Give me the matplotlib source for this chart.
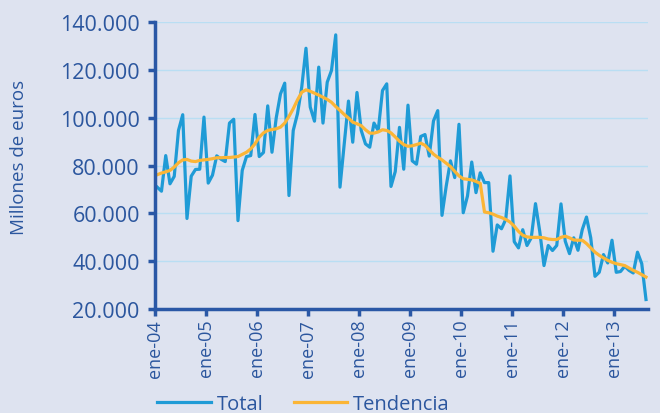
import matplotlib.pyplot as plt
import numpy as np

# monthly data, ene-04 .. ago-13 (millones de euros)
total = [71000, 69300, 84200, 72400, 75500, 94700, 101300, 57900, 75600, 78400, 78500, 100300,
         72700, 76000, 84100, 82700, 81700, 97800, 99400, 57000, 78000, 83800, 84200, 101400,
         83800, 85500, 105000, 85600, 100000, 110000, 114500, 67500, 94700, 101700, 112800, 129100,
         104500, 98600, 121200, 97800, 114900, 119800, 134700, 71000, 89100, 107000, 89800, 110600,
         94700, 89100, 87700, 97800, 94700, 111400, 114200, 71300, 77500, 96000, 78500, 105300,
         82000, 80600, 92200, 93000, 84000, 98700, 103000, 59200, 71500, 82000, 75000, 97300,
         60300, 67300, 81500, 68700, 77000, 72900, 72900, 44200, 55200, 53600, 57500, 75700,
         48200, 45600, 53200, 46600, 49800, 64100, 52500, 38200, 46600, 44500, 46600, 64000,
         48400, 43200, 49800, 44600, 53200, 58500, 49800, 33700, 35400, 42800, 39300, 48800,
         35400, 35700, 37900, 36200, 35100, 43800, 39000, 24000]

tendencia = [76200, 76900, 77400, 78000, 79400, 81200, 82400, 82600, 81900, 81700, 82200, 82400,
             82600, 82900, 83300, 83300, 83400, 83400, 83600, 83800, 84700, 85600, 87000, 89100,
             91900, 93700, 94700, 95100, 95400, 96100, 97800, 100600, 103800, 107500, 110700, 111700,
             111100, 110300, 109500, 108600, 107700, 106500, 104700, 103100, 101400, 99900, 98200, 97500,
             96700, 95000, 93600, 93600, 94100, 95000, 94700, 93700, 92000, 90200, 88800, 88100,
             88300, 88800, 89400, 88500, 86600, 84800, 83500, 82400, 81000, 79600, 77600, 75700,
             74500, 74300, 74000, 73400, 72600, 60600, 60300, 59700, 58900, 58300, 57500, 56400,
             54700, 52500, 50900, 50200, 50000, 50000, 50000, 49800, 49300, 49100, 49100, 50000,
             50500, 49800, 48900, 48800, 48800, 47400, 45600, 43800, 42500, 41400, 40400, 39600,
             39000, 38600, 38200, 37200, 36200, 35400, 34400, 33400]

years = ["04", "05", "06", "07", "08", "09", "10", "11", "12", "13"]
yticks = [20000, 40000, 60000, 80000, 100000, 120000, 140000]

plt.rcParams["font.family"] = ["Open Sans", "DejaVu Sans"]

bg = "#dee3f0"
axis_blue = "#2a58a6"
text_blue = "#2b569e"

fig = plt.figure(figsize=(6.6, 4.14), dpi=100, facecolor=bg)
ax = fig.add_axes([0.235, 0.251, 0.747, 0.693])
ax.set_facecolor(bg)

x = np.arange(len(total)) + 0.5
ax.plot(x, total, color="#1f9bd6", lw=2.3, label="Total")
ax.plot(x, tendencia, color="#fbb536", lw=2.3, label="Tendencia")

ax.set_xlim(0, len(total))
ax.set_ylim(20000, 140000)
ax.set_yticks(yticks)
ax.set_yticklabels([f"{v:,}".replace(",", ".") for v in yticks])
ax.set_xticks(np.arange(len(years)) * 12)
ax.set_xticklabels(["ene-" + y for y in years], rotation=90)

ax.grid(axis="y", color="#b9def3", lw=1)
ax.set_axisbelow(True)
for s in ["top", "right"]:
    ax.spines[s].set_visible(False)
for s in ["left", "bottom"]:
    ax.spines[s].set_color(axis_blue)
    ax.spines[s].set_linewidth(2.5)
ax.tick_params(axis="both", colors=axis_blue, width=2.5, length=5, labelcolor=text_blue)
ax.tick_params(axis="y", labelsize=15.5, pad=6)
ax.tick_params(axis="x", labelsize=13, pad=2)

ax.set_ylabel("Millones de euros", color=text_blue, fontsize=13.5)
ax.yaxis.set_label_coords(-0.258, 0.533)

fig.legend(loc="center", bbox_to_anchor=(0.46, 0.022), ncol=2, frameon=False,
           fontsize=14.5, handlelength=2.65, handletextpad=0.3, columnspacing=1.5,
           labelcolor=text_blue)

fig.savefig("out.png", dpi=100, facecolor=bg)
